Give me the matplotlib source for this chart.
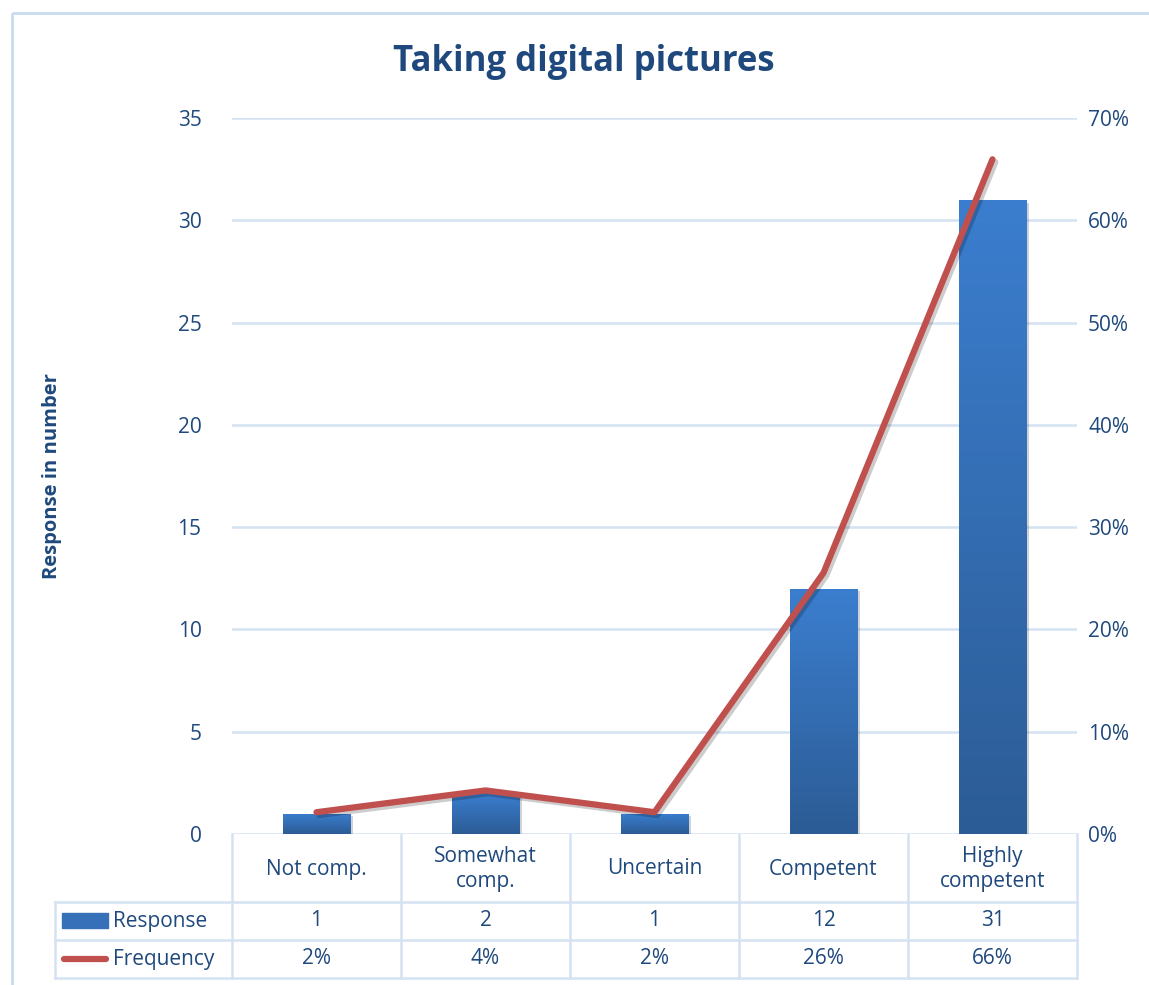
import matplotlib
matplotlib.use("Agg")
import matplotlib.pyplot as plt
import matplotlib.patheffects as pe
import numpy as np

categories = ["Not comp.", "Somewhat\ncomp.", "Uncertain", "Competent", "Highly\ncompetent"]
responses = [1, 2, 1, 12, 31]
frequency = [2.13, 4.26, 2.13, 25.53, 65.96]   # percent
freq_labels = ["2%", "4%", "2%", "26%", "66%"]

W, H = 1149, 985
txt = "#1f497d"
grid_c = "#d5e2f2"
red = "#c0504d"

plt.rcParams['font.family'] = ['Open Sans', 'DejaVu Sans']

fig = plt.figure(figsize=(W / 100, H / 100), dpi=100)

# pixel layout of the plot area
px_l, px_r, px_t, px_b = 232, 1077, 118, 834
ax = fig.add_axes([px_l / W, 1 - px_b / H, (px_r - px_l) / W, (px_b - px_t) / H])
ax2 = ax.twinx()

x = np.arange(len(categories))
bars = ax.bar(x, responses, width=0.4, color="#3570b8", zorder=2)

# vertical gradient inside each bar
grad = np.linspace(0, 1, 256).reshape(-1, 1)
cmap = matplotlib.colors.LinearSegmentedColormap.from_list("g", ["#2c5c95", "#3b7ecf"])
for b in bars:
    x0, w, h = b.get_x(), b.get_width(), b.get_height()
    im = ax.imshow(grad, extent=(x0, x0 + w, 0, h), origin="lower", aspect="auto",
                   cmap=cmap, zorder=2)
    im.set_clip_path(b)
    b.set_path_effects([pe.SimplePatchShadow(offset=(2, -2), alpha=0.2), pe.Normal()])

ax.set_xlim(-0.5, len(categories) - 0.5)
ax.set_ylim(0, 35)
ax.set_yticks(range(0, 36, 5))
ax.grid(axis="y", color=grid_c, linewidth=1.8, zorder=0)
ax.set_axisbelow(True)
ax.set_xticks([])
for s in ax.spines.values():
    s.set_visible(False)
for s in ax2.spines.values():
    s.set_visible(False)
ax.tick_params(axis="y", length=0, pad=22, labelsize=15, labelcolor=txt)

ax2.plot(x, frequency, color=red, linewidth=4.5, solid_capstyle="round",
         path_effects=[pe.SimpleLineShadow(offset=(2, -2), alpha=0.2), pe.Normal()])
ax2.set_ylim(0, 70)
ax2.set_yticks(range(0, 71, 10))
ax2.set_yticklabels([f"{v}%" for v in range(0, 71, 10)])
ax2.tick_params(axis="y", length=0, pad=8, labelsize=15, labelcolor=txt)

ax.set_ylabel("Response in number", fontsize=14.5, fontweight="bold", color=txt, labelpad=0)
ax.yaxis.set_label_coords((62 - px_l) / (px_r - px_l), 0.5)

fig.text(584 / W, 1 - 62 / H, "Taking digital pictures", ha="center", va="center",
         fontsize=25, fontweight="bold", color=txt)

# overlay in pixel coordinates for the data table and frame
ov = fig.add_axes([0, 0, 1, 1], zorder=-1)
ov.set_xlim(0, W)
ov.set_ylim(H, 0)
ov.axis("off")
ov.patch.set_alpha(0)

ov.add_patch(plt.Rectangle((12, 13), W + 20, H + 20, fill=False, edgecolor="#c9dbf0", linewidth=2))

cols = np.linspace(px_l, px_r, len(categories) + 1)
rows = [834, 902, 940, 978]
for cx in cols:
    ov.plot([cx, cx], [rows[0], rows[-1]], color=grid_c, linewidth=1.8)
ov.plot([55, 55], [rows[1], rows[-1]], color=grid_c, linewidth=1.8)
for ry in rows[1:]:
    ov.plot([55, px_r], [ry, ry], color=grid_c, linewidth=1.8)

for i, cat in enumerate(categories):
    cx = (cols[i] + cols[i + 1]) / 2
    ov.text(cx, (rows[0] + rows[1]) / 2 + 1, cat, ha="center", va="center", fontsize=15,
            color=txt, linespacing=1.25)
    ov.text(cx, (rows[1] + rows[2]) / 2, str(responses[i]), ha="center", va="center",
            fontsize=15, color=txt)
    ov.text(cx, (rows[2] + rows[3]) / 2, freq_labels[i], ha="center", va="center",
            fontsize=15, color=txt)

ov.add_patch(plt.Rectangle((62, 913), 46, 15, color="#3570b8"))
ov.plot([64, 106], [959, 959], color=red, linewidth=4.5, solid_capstyle="round")
ov.text(113, (rows[1] + rows[2]) / 2, "Response", ha="left", va="center", fontsize=15, color=txt)
ov.text(113, (rows[2] + rows[3]) / 2, "Frequency", ha="left", va="center", fontsize=15, color=txt)

fig.savefig("out.png", dpi=100, facecolor="white")
